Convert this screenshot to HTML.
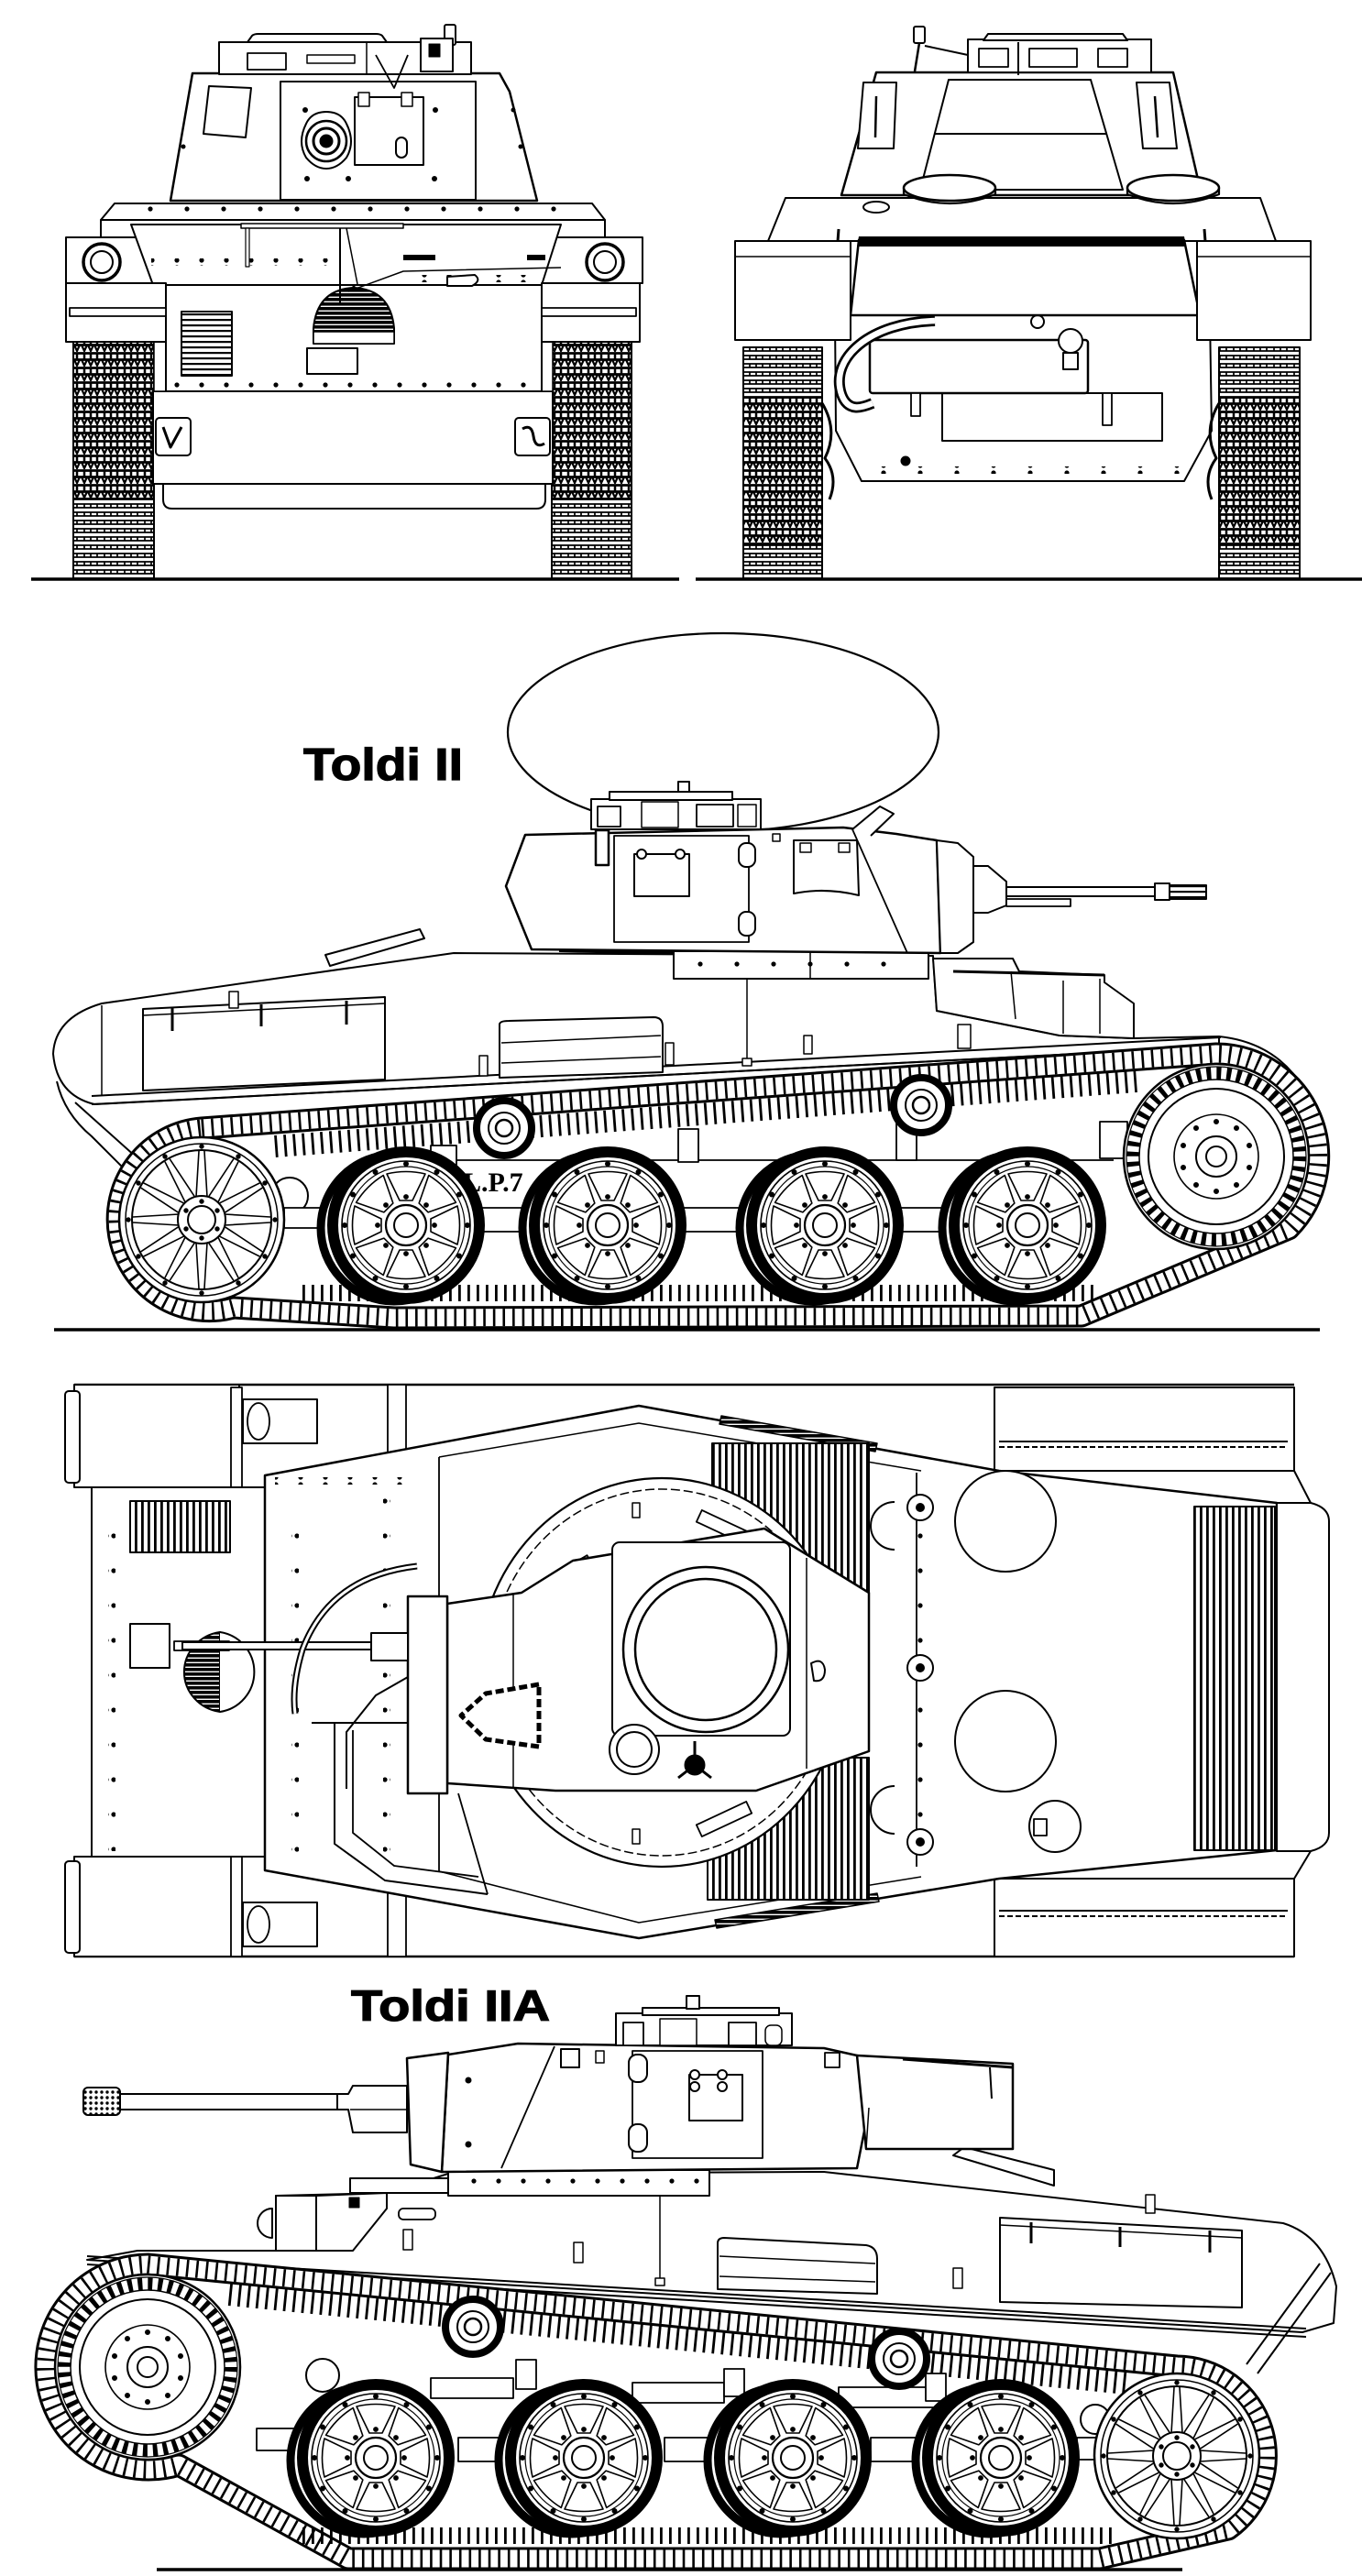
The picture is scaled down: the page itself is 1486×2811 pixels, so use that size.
<!DOCTYPE html>
<html><head><meta charset="utf-8"><style>
html,body{margin:0;padding:0;background:#fff;}
svg{display:block;}
</style></head><body>
<svg xmlns="http://www.w3.org/2000/svg" xmlns:xlink="http://www.w3.org/1999/xlink" width="1486" height="2811" viewBox="0 0 1486 2811">
<defs>
 <pattern id="trkF" width="22" height="16" patternUnits="userSpaceOnUse">
  <rect width="22" height="16" fill="#fff"/>
  <path d="M0 1.5H22M0 8.5H22" stroke="#000" stroke-width="2.8"/>
  <path d="M4 1.5V8.5M11 1.5V8.5M18 1.5V8.5" stroke="#000" stroke-width="2.5"/>
  <path d="M1 8.5L4 15L7 8.5M8 8.5L11 15L14 8.5M15 8.5L18 15L21 8.5" fill="none" stroke="#000" stroke-width="2.2"/>
 </pattern>
 <pattern id="trkG" width="22" height="9" patternUnits="userSpaceOnUse">
  <rect width="22" height="9" fill="#fff"/>
  <path d="M0 1H22M0 5H22" stroke="#000" stroke-width="1.8"/>
  <path d="M4 1V5M11 1V5M18 1V5" stroke="#000" stroke-width="1.7"/>
 </pattern>
 <pattern id="vl" width="7" height="10" patternUnits="userSpaceOnUse">
  <rect width="7" height="10" fill="#fff"/><rect width="2.8" height="10" fill="#000"/>
 </pattern>
 <pattern id="hl" width="10" height="6" patternUnits="userSpaceOnUse">
  <rect width="10" height="6" fill="#fff"/><rect width="10" height="2.2" fill="#000"/>
 </pattern>
 <pattern id="hd" width="10" height="5" patternUnits="userSpaceOnUse">
  <rect width="10" height="5" fill="#fff"/><rect width="10" height="3.6" fill="#000"/>
 </pattern>
 <pattern id="dots" width="6" height="6" patternUnits="userSpaceOnUse">
  <rect width="6" height="6" fill="#fff"/><circle cx="3" cy="3" r="1.7" fill="#000"/>
 </pattern>
 <pattern id="riv" width="27" height="8" patternUnits="userSpaceOnUse">
  <circle cx="4" cy="4" r="2.6" fill="#000"/>
 </pattern>
 <pattern id="riv2" width="40" height="8" patternUnits="userSpaceOnUse">
  <circle cx="4" cy="4" r="2.6" fill="#000"/>
 </pattern>
 <pattern id="rivv" width="8" height="38" patternUnits="userSpaceOnUse">
  <circle cx="4" cy="4" r="2.6" fill="#000"/>
 </pattern>

 <g id="rw">
  <circle cx="-13" cy="3" r="80" fill="#fff" stroke="#000" stroke-width="9"/>
  <circle r="80" fill="#fff" stroke="#000" stroke-width="12"/>
  <circle r="70" fill="none" stroke="#000" stroke-width="1.6"/>
  <circle r="64" fill="none" stroke="#000" stroke-width="1.2"/>
  <g fill="none" stroke="#000" stroke-width="1.6">
   <path id="wg" d="M-7 -27 L7 -27 L21 -56 Q0 -61 -21 -56 Z"/>
   <use href="#wg" xlink:href="#wg" transform="rotate(45)"/>
   <use href="#wg" xlink:href="#wg" transform="rotate(90)"/>
   <use href="#wg" xlink:href="#wg" transform="rotate(135)"/>
   <use href="#wg" xlink:href="#wg" transform="rotate(180)"/>
   <use href="#wg" xlink:href="#wg" transform="rotate(225)"/>
   <use href="#wg" xlink:href="#wg" transform="rotate(270)"/>
   <use href="#wg" xlink:href="#wg" transform="rotate(315)"/>
  </g>
  <circle r="22" fill="#fff" stroke="#000" stroke-width="2.2"/>
  <circle r="13" fill="none" stroke="#000" stroke-width="2"/>
  <g fill="#000">
   <circle cx="0" cy="-67" r="2.5"/><circle cx="33.5" cy="-58" r="2.5"/><circle cx="58" cy="-33.5" r="2.5"/><circle cx="67" cy="0" r="2.5"/>
   <circle cx="58" cy="33.5" r="2.5"/><circle cx="33.5" cy="58" r="2.5"/><circle cx="0" cy="67" r="2.5"/><circle cx="-33.5" cy="58" r="2.5"/>
   <circle cx="-58" cy="33.5" r="2.5"/><circle cx="-67" cy="0" r="2.5"/><circle cx="-58" cy="-33.5" r="2.5"/><circle cx="-33.5" cy="-58" r="2.5"/>
   <circle cx="0" cy="-31" r="2.4"/><circle cx="22" cy="-22" r="2.4"/><circle cx="31" cy="0" r="2.4"/><circle cx="22" cy="22" r="2.4"/>
   <circle cx="0" cy="31" r="2.4"/><circle cx="-22" cy="22" r="2.4"/><circle cx="-31" cy="0" r="2.4"/><circle cx="-22" cy="-22" r="2.4"/>
  </g>
 </g>

 <g id="idl">
  <circle r="90" fill="#fff" stroke="#000" stroke-width="2.5"/>
  <circle r="83" fill="none" stroke="#000" stroke-width="1.5"/>
  <circle r="76" fill="none" stroke="#000" stroke-width="2"/>
  <g stroke="#000" stroke-width="1.6" fill="none">
   <path id="isp" d="M-6 -25 L-3 -75 M6 -25 L3 -75"/>
   <use href="#isp" xlink:href="#isp" transform="rotate(30)"/>
   <use href="#isp" xlink:href="#isp" transform="rotate(60)"/>
   <use href="#isp" xlink:href="#isp" transform="rotate(90)"/>
   <use href="#isp" xlink:href="#isp" transform="rotate(120)"/>
   <use href="#isp" xlink:href="#isp" transform="rotate(150)"/>
   <use href="#isp" xlink:href="#isp" transform="rotate(180)"/>
   <use href="#isp" xlink:href="#isp" transform="rotate(210)"/>
   <use href="#isp" xlink:href="#isp" transform="rotate(240)"/>
   <use href="#isp" xlink:href="#isp" transform="rotate(270)"/>
   <use href="#isp" xlink:href="#isp" transform="rotate(300)"/>
   <use href="#isp" xlink:href="#isp" transform="rotate(330)"/>
  </g>
  <circle r="26" fill="#fff" stroke="#000" stroke-width="2"/>
  <circle r="15" fill="none" stroke="#000" stroke-width="2"/>
  <g fill="#000">
   <circle cx="0" cy="-20" r="2.2"/><circle cx="17" cy="-10" r="2.2"/><circle cx="17" cy="10" r="2.2"/><circle cx="0" cy="20" r="2.2"/><circle cx="-17" cy="10" r="2.2"/><circle cx="-17" cy="-10" r="2.2"/>
   <circle cx="0" cy="-80" r="2.2"/><circle cx="40" cy="-69" r="2.2"/><circle cx="69" cy="-40" r="2.2"/><circle cx="80" cy="0" r="2.2"/><circle cx="69" cy="40" r="2.2"/><circle cx="40" cy="69" r="2.2"/>
   <circle cx="0" cy="80" r="2.2"/><circle cx="-40" cy="69" r="2.2"/><circle cx="-69" cy="40" r="2.2"/><circle cx="-80" cy="0" r="2.2"/><circle cx="-69" cy="-40" r="2.2"/><circle cx="-40" cy="-69" r="2.2"/>
  </g>
 </g>

 <g id="spr">
  <circle r="101" fill="#fff" stroke="#000" stroke-width="2.5"/>
  <circle r="91" fill="none" stroke="#000" stroke-width="14" stroke-dasharray="5 6"/>
  <circle r="98" fill="none" stroke="#000" stroke-width="1.2"/>
  <circle r="84" fill="none" stroke="#000" stroke-width="1.5"/>
  <circle r="74" fill="none" stroke="#000" stroke-width="2"/>
  <circle r="46" fill="none" stroke="#000" stroke-width="1.6"/>
  <g fill="#000">
   <circle cx="0" cy="-38" r="2.5"/><circle cx="22" cy="-31" r="2.5"/><circle cx="36" cy="-12" r="2.5"/><circle cx="36" cy="12" r="2.5"/><circle cx="22" cy="31" r="2.5"/>
   <circle cx="0" cy="38" r="2.5"/><circle cx="-22" cy="31" r="2.5"/><circle cx="-36" cy="12" r="2.5"/><circle cx="-36" cy="-12" r="2.5"/><circle cx="-22" cy="-31" r="2.5"/>
  </g>
  <circle r="22" fill="#fff" stroke="#000" stroke-width="2"/>
  <circle r="11" fill="none" stroke="#000" stroke-width="2"/>
 </g>

 <g id="rol">
  <circle r="30" fill="#fff" stroke="#000" stroke-width="8"/>
  <circle r="17" fill="none" stroke="#000" stroke-width="2"/>
  <circle r="9" fill="none" stroke="#000" stroke-width="2.5"/>
 </g>

 <path id="t2" d="M220 1231 L1327 1150 A112 112 0 0 1 1406 1341 L1180 1436 L430 1438 L255 1427 A100 100 0 1 1 220 1231 Z"/>
 <path id="t3" d="M161 2471 L1284 2582 A98 98 0 0 1 1340 2760 L1200 2792 L380 2792 L195 2690 A112 112 0 1 1 161 2471 Z"/>
</defs>

<rect width="1486" height="2811" fill="#fff"/>

<!-- ================= LEFT FRONT VIEW ================= -->
<g stroke="#000" stroke-linejoin="round">
 <rect x="80" y="354" width="88" height="190" fill="url(#trkF)" stroke-width="2"/>
 <rect x="80" y="544" width="88" height="88" fill="url(#trkG)" stroke-width="2"/>
 <rect x="602" y="354" width="87" height="190" fill="url(#trkF)" stroke-width="2"/>
 <rect x="602" y="544" width="87" height="88" fill="url(#trkG)" stroke-width="2"/>

 <path d="M178 528 L595 528 L595 545 Q595 555 585 555 L188 555 Q178 555 178 545 Z" fill="#fff" stroke-width="2"/>
 <rect x="167" y="427" width="436" height="101" fill="#fff" stroke-width="2"/>
 <rect x="168" y="330" width="13" height="97" fill="#fff" stroke-width="1.5"/>
 <rect x="591" y="330" width="12" height="97" fill="#fff" stroke-width="1.5"/>
 <rect x="181" y="311" width="410" height="116" fill="#fff" stroke-width="2"/>
 <rect x="190" y="416" width="395" height="8" fill="url(#riv)" stroke="none"/>
 <rect x="198" y="340" width="55" height="70" fill="url(#hl)" stroke-width="2"/>
 <path d="M342 375 L342 358 Q346 316 386 314 Q426 316 430 358 L430 375 Z" fill="url(#hd)" stroke-width="2"/>
 <rect x="342" y="362" width="88" height="13" fill="#fff" stroke-width="1.5"/>
 <rect x="335" y="380" width="55" height="28" fill="#fff" stroke-width="2"/>
 <line x1="386" y1="303" x2="386" y2="316" stroke-width="3"/>
 <rect x="170" y="456" width="38" height="41" rx="4" fill="#fff" stroke-width="2"/>
 <path d="M178 466 L186 488 L198 466" fill="none" stroke-width="3"/>
 <rect x="562" y="456" width="38" height="41" rx="4" fill="#fff" stroke-width="2"/>
 <path d="M570 468 Q580 462 582 476 Q584 490 594 484" fill="none" stroke-width="3"/>

 <rect x="72" y="259" width="629" height="50" fill="#fff" stroke-width="2"/>
 <circle cx="111" cy="286" r="20" fill="#fff" stroke-width="3.5"/>
 <circle cx="111" cy="286" r="12" fill="none" stroke-width="2"/>
 <circle cx="660" cy="286" r="20" fill="#fff" stroke-width="3.5"/>
 <circle cx="660" cy="286" r="12" fill="none" stroke-width="2"/>
 <rect x="110" y="240" width="550" height="19" fill="#fff" stroke-width="2"/>
 <polygon points="125,222 646,222 660,240 110,240" fill="#fff" stroke-width="2"/>
 <polygon points="143,245 612,245 591,311 167,311" fill="#fff" stroke-width="2"/>
 <polyline points="380,318 440,296 612,292" fill="none" stroke-width="1.5"/>
 <rect x="165" y="282" width="210" height="8" fill="url(#riv)" stroke="none"/>
 <rect x="440" y="300" width="150" height="8" fill="url(#riv)" stroke="none"/>
 <rect x="150" y="225" width="470" height="8" fill="url(#riv2)" stroke="none"/>
 <rect x="440" y="278" width="35" height="6" fill="#000" stroke="none"/>
 <rect x="575" y="278" width="20" height="6" fill="#000" stroke="none"/>
 <path d="M488 302 L488 312 L515 312 Q526 306 518 300 Z" fill="#fff" stroke-width="2"/>
 <rect x="263" y="244" width="177" height="5" fill="#fff" stroke-width="1.5"/>
 <rect x="268" y="249" width="4" height="42" fill="#fff" stroke-width="1.2"/>
 <line x1="371" y1="249" x2="371" y2="330" stroke-width="2"/>
 <line x1="378" y1="249" x2="390" y2="310" stroke-width="1.5"/>

 <rect x="72" y="309" width="109" height="64" fill="#fff" stroke-width="2"/>
 <rect x="76" y="336" width="105" height="9" fill="#fff" stroke-width="1.8"/>
 <rect x="591" y="309" width="107" height="64" fill="#fff" stroke-width="2"/>
 <rect x="591" y="336" width="103" height="9" fill="#fff" stroke-width="1.8"/>

 <polygon points="210,80 545,80 556,100 586,219 186,219" fill="#fff" stroke-width="2.5"/>
 <rect x="306" y="89" width="213" height="129" fill="#fff" stroke-width="2"/>
 <path d="M356 122 Q372 122 378 135 Q388 155 378 172 Q368 184 356 184 Q344 184 334 172 Q324 155 334 135 Q340 122 356 122 Z" fill="#fff" stroke-width="2"/>
 <circle cx="356" cy="154" r="22" fill="#fff" stroke-width="2.5"/>
 <circle cx="356" cy="154" r="14" fill="none" stroke-width="3"/>
 <circle cx="356" cy="154" r="7" fill="#000"/>
 <rect x="387" y="106" width="75" height="74" fill="#fff" stroke-width="2"/>
 <rect x="391" y="101" width="12" height="15" fill="#fff" stroke-width="1.5"/>
 <rect x="438" y="101" width="12" height="15" fill="#fff" stroke-width="1.5"/>
 <rect x="432" y="150" width="12" height="22" rx="6" fill="#fff" stroke-width="2"/>
 <g fill="#000" stroke="none">
  <circle cx="335" cy="195" r="3"/><circle cx="380" cy="195" r="3"/><circle cx="474" cy="195" r="3"/>
  <circle cx="333" cy="120" r="3"/><circle cx="475" cy="120" r="3"/><circle cx="560" cy="120" r="2.5"/><circle cx="568" cy="160" r="2.5"/><circle cx="200" cy="160" r="2.5"/>
 </g>
 <polygon points="228,94 274,96 268,150 222,146" fill="#fff" stroke-width="2"/>
 <rect x="239" y="46" width="275" height="35" fill="#fff" stroke-width="2"/>
 <rect x="270" y="58" width="42" height="18" fill="#fff" stroke-width="1.8"/>
 <rect x="335" y="60" width="52" height="9" fill="#fff" stroke-width="1.5"/>
 <line x1="400" y1="46" x2="400" y2="81" stroke-width="1.5"/>
 <polyline points="410,60 430,96 445,60" fill="none" stroke-width="1.8"/>
 <path d="M270 46 L275 39 Q277 37 282 37 L410 37 Q415 37 417 39 L422 46 Z" fill="#fff" stroke-width="2"/>
 <rect x="485" y="27" width="12" height="22" rx="2" fill="#fff" stroke-width="2"/>
 <rect x="459" y="42" width="35" height="36" fill="#fff" stroke-width="2"/>
 <rect x="468" y="48" width="12" height="14" fill="#000"/>
 <line x1="34" y1="632" x2="741" y2="632" stroke-width="3.5"/>
</g>

<!-- ================= RIGHT FRONT VIEW (rear) ================= -->
<g stroke="#000" stroke-linejoin="round">
 <rect x="811" y="379" width="86" height="55" fill="url(#trkG)" stroke-width="2"/>
 <rect x="811" y="434" width="86" height="160" fill="url(#trkF)" stroke-width="2"/>
 <rect x="811" y="594" width="86" height="38" fill="url(#trkG)" stroke-width="2"/>
 <rect x="1330" y="379" width="88" height="55" fill="url(#trkG)" stroke-width="2"/>
 <rect x="1330" y="434" width="88" height="160" fill="url(#trkF)" stroke-width="2"/>
 <rect x="1330" y="594" width="88" height="38" fill="url(#trkG)" stroke-width="2"/>

 <polygon points="911,344 1320,344 1322,470 1292,525 940,525 912,470" fill="#fff" stroke-width="2"/>
 <rect x="950" y="509" width="340" height="8" fill="url(#riv2)" stroke="none"/>
 <circle cx="988" cy="503" r="5" fill="#000"/>
 <path d="M897 440 Q915 470 900 500 Q915 520 905 545" fill="none" stroke-width="3"/>
 <path d="M1330 440 Q1312 470 1327 500 Q1312 520 1322 545" fill="none" stroke-width="3"/>
 <rect x="1028" y="429" width="240" height="52" fill="#fff" stroke-width="2"/>
 <rect x="949" y="371" width="238" height="58" rx="3" fill="#fff" stroke-width="2.5"/>
 <path d="M1020 350 C950 352 905 390 918 430 C925 450 940 445 952 440" fill="none" stroke-width="12"/>
 <path d="M1020 350 C950 352 905 390 918 430 C925 450 940 445 952 440" fill="none" stroke="#fff" stroke-width="6.5"/>
 <circle cx="1168" cy="372" r="13" fill="#fff" stroke-width="2"/>
 <rect x="1160" y="385" width="16" height="18" fill="#fff" stroke-width="2"/>
 <rect x="994" y="429" width="10" height="25" fill="#fff" stroke-width="1.8"/>
 <rect x="1203" y="429" width="10" height="35" fill="#fff" stroke-width="1.8"/>
 <circle cx="1132" cy="351" r="7" fill="#fff" stroke-width="2"/>

 <polygon points="857,216 1375,216 1392,263 838,263" fill="#fff" stroke-width="2"/>
 <polygon points="937,262 1292,262 1309,344 928,344" fill="#fff" stroke-width="2.5"/>
 <polygon points="937,258 1292,258 1294,269 935,269" fill="#000" stroke="none"/>
 <line x1="915" y1="250" x2="908" y2="345" stroke-width="3"/>
 <line x1="1314" y1="250" x2="1321" y2="345" stroke-width="3"/>
 <rect x="802" y="263" width="126" height="108" fill="#fff" stroke-width="2"/>
 <line x1="802" y1="280" x2="928" y2="280" stroke-width="1.5"/>
 <rect x="1306" y="263" width="124" height="108" fill="#fff" stroke-width="2"/>
 <line x1="1306" y1="280" x2="1430" y2="280" stroke-width="1.5"/>

 <polygon points="956,79 1280,79 1311,213 918,213" fill="#fff" stroke-width="2.5"/>
 <polygon points="1035,87 1190,87 1225,207 1004,207" fill="#fff" stroke-width="2"/>
 <line x1="1020" y1="146" x2="1208" y2="146" stroke-width="2"/>
 <polygon points="942,90 978,90 975,162 936,162" fill="#fff" stroke-width="2"/>
 <line x1="956" y1="105" x2="955" y2="150" stroke-width="2.5"/>
 <polygon points="1240,90 1276,90 1284,162 1247,162" fill="#fff" stroke-width="2"/>
 <line x1="1260" y1="105" x2="1263" y2="150" stroke-width="2.5"/>
 <path d="M986 205 L986 212 Q1036 232 1086 212 L1086 205" fill="#fff" stroke-width="2.2"/>
 <ellipse cx="1036" cy="205" rx="50" ry="14" fill="#fff" stroke-width="2.5"/>
 <path d="M1230 205 L1230 212 Q1280 232 1330 212 L1330 205" fill="#fff" stroke-width="2.2"/>
 <ellipse cx="1280" cy="205" rx="50" ry="14" fill="#fff" stroke-width="2.5"/>
 <ellipse cx="956" cy="226" rx="14" ry="6" fill="#fff" stroke-width="2"/>
 <rect x="1056" y="43" width="200" height="36" fill="#fff" stroke-width="2"/>
 <rect x="1068" y="53" width="32" height="20" fill="#fff" stroke-width="1.8"/>
 <rect x="1123" y="53" width="52" height="20" fill="#fff" stroke-width="1.8"/>
 <rect x="1198" y="53" width="32" height="20" fill="#fff" stroke-width="1.8"/>
 <line x1="1111" y1="46" x2="1111" y2="82" stroke-width="2"/>
 <path d="M1073 44 L1078 37 L1225 37 L1230 44 Z" fill="#fff" stroke-width="2"/>
 <rect x="997" y="29" width="12" height="18" rx="2" fill="#fff" stroke-width="2"/>
 <polyline points="1003,47 998,78" fill="none" stroke-width="2.5"/>
 <polyline points="1009,50 1056,60 1056,70" fill="none" stroke-width="2"/>
 <line x1="759" y1="632" x2="1486" y2="632" stroke-width="3.5"/>
</g>

<!-- ================= TOLDI II SIDE ================= -->
<text x="331" y="851" font-family="'Liberation Sans', Arial, sans-serif" font-weight="bold" font-size="49" textLength="174" lengthAdjust="spacingAndGlyphs" fill="#000" stroke="#000" stroke-width="1.2">Toldi II</text>
<ellipse cx="789" cy="799" rx="235" ry="108" fill="none" stroke="#000" stroke-width="2.2"/>
<g stroke="#000" stroke-linejoin="round">
 <path d="M111 1095 L495 1040 L1018 1043 L1022 1103 L1156 1130 L1237 1133 L1330 1131 L1330 1142 L103 1205 Q62 1195 58 1150 Q60 1110 111 1095 Z" fill="#fff" stroke-width="2"/>
 <line x1="100" y1="1196" x2="1332" y2="1132" stroke-width="2"/>
 <line x1="100" y1="1205" x2="1332" y2="1142" stroke-width="2"/>
 <line x1="111" y1="1097" x2="111" y2="1196" stroke-width="1.5"/>
 <path d="M62 1180 Q70 1215 100 1240 L150 1290" fill="none" stroke-width="2"/>
 <path d="M82 1203 L168 1280" fill="none" stroke-width="2"/>
 <path d="M1330 1131 Q1415 1140 1440 1230" fill="none" stroke-width="2"/>
 <polygon points="355,1042 458,1014 463,1024 360,1054" fill="#fff" stroke-width="2"/>
 <polygon points="156,1101 420,1088 420,1178 156,1190" fill="#fff" stroke-width="2"/>
 <line x1="156" y1="1108" x2="420" y2="1095" stroke-width="1.5"/>
 <path d="M188 1100 V1125 M285 1096 V1120 M378 1092 V1118" fill="none" stroke-width="3"/>
 <path d="M545 1118 L545 1176 L723 1170 L723 1120 Q723 1110 713 1110 L555 1114 Q545 1114 545 1118 Z" fill="#fff" stroke-width="2"/>
 <line x1="547" y1="1138" x2="721" y2="1130" stroke-width="1.5"/>
 <line x1="547" y1="1160" x2="721" y2="1153" stroke-width="1.5"/>
 <rect x="523" y="1152" width="9" height="22" fill="#fff" stroke-width="1.5"/>
 <rect x="726" y="1138" width="9" height="24" fill="#fff" stroke-width="1.5"/>
 <rect x="877" y="1130" width="9" height="20" fill="#fff" stroke-width="1.5"/>
 <rect x="1045" y="1118" width="14" height="26" fill="#fff" stroke-width="1.5"/>
 <rect x="250" y="1082" width="10" height="18" fill="#fff" stroke-width="1.5"/>
 <line x1="815" y1="1068" x2="815" y2="1156" stroke-width="1.5"/>
 <rect x="810" y="1155" width="10" height="8" fill="#fff" stroke-width="1.5"/>
 <polygon points="1018,1046 1105,1046 1112,1060 1205,1064 1205,1072 1237,1095 1237,1133 1156,1130 1022,1103" fill="#fff" stroke-width="2"/>
 <line x1="1103" y1="1060" x2="1108" y2="1112" stroke-width="1.5"/>
 <line x1="1160" y1="1070" x2="1160" y2="1128" stroke-width="1.5"/>
 <line x1="1200" y1="1068" x2="1200" y2="1128" stroke-width="1.5"/>
 <line x1="1040" y1="1060" x2="1205" y2="1064" stroke-width="3"/>
 <line x1="610" y1="1037" x2="735" y2="1040" stroke-width="4"/>

 <rect x="735" y="1038" width="278" height="30" fill="#fff" stroke-width="2"/>
 <line x1="884" y1="1038" x2="884" y2="1068" stroke-width="1.5"/>
 <rect x="760" y="1049" width="240" height="8" fill="url(#riv2)" stroke="none"/>
 <polygon points="573,911 920,903 978,910 1022,917 1026,1040 580,1036 552,967" fill="#fff" stroke-width="2.5"/>
 <line x1="930" y1="905" x2="990" y2="1040" stroke-width="1.8"/>
 <polygon points="1022,917 1045,920 1062,935 1062,1028 1045,1040 1026,1040" fill="#fff" stroke-width="2"/>
 <rect x="670" y="912" width="147" height="116" fill="#fff" stroke-width="1.8"/>
 <rect x="692" y="932" width="60" height="46" fill="#fff" stroke-width="2"/>
 <circle cx="700" cy="932" r="5" fill="#fff" stroke-width="2"/><circle cx="742" cy="932" r="5" fill="#fff" stroke-width="2"/>
 <rect x="806" y="920" width="18" height="26" rx="8" fill="#fff" stroke-width="2"/>
 <rect x="806" y="995" width="18" height="26" rx="8" fill="#fff" stroke-width="2"/>
 <path d="M866 917 L935 917 L937 977 Q900 968 866 975 Z" fill="#fff" stroke-width="2"/>
 <rect x="873" y="920" width="12" height="10" fill="#fff" stroke-width="1.5"/><rect x="915" y="920" width="12" height="10" fill="#fff" stroke-width="1.5"/>
 <rect x="843" y="910" width="8" height="8" fill="#fff" stroke-width="1.5"/>
 <rect x="650" y="906" width="14" height="38" fill="#fff" stroke-width="2.5"/>
 <path d="M930 905 L960 880 L975 888 L950 912" fill="#fff" stroke-width="2"/>
 <rect x="645" y="872" width="185" height="33" fill="#fff" stroke-width="2"/>
 <rect x="652" y="880" width="25" height="22" fill="#fff" stroke-width="1.8"/>
 <rect x="700" y="875" width="40" height="28" fill="#fff" stroke-width="1.5"/>
 <rect x="760" y="878" width="40" height="24" fill="#fff" stroke-width="1.8"/>
 <rect x="805" y="878" width="20" height="24" fill="#fff" stroke-width="1.5"/>
 <rect x="665" y="864" width="134" height="9" fill="#fff" stroke-width="2"/>
 <rect x="740" y="853" width="12" height="11" fill="#fff" stroke-width="2"/>
 <polygon points="1062,945 1078,945 1098,962 1098,988 1078,996 1062,996" fill="#fff" stroke-width="2"/>
 <rect x="1098" y="968" width="164" height="10" fill="#fff" stroke-width="2"/>
 <rect x="1260" y="964" width="16" height="18" fill="#fff" stroke-width="2"/>
 <rect x="1276" y="966" width="40" height="15" fill="url(#hl)" stroke-width="2"/>
 <rect x="1098" y="981" width="70" height="8" fill="#fff" stroke-width="1.8"/>

 <use href="#t2" xlink:href="#t2" fill="none" stroke="#000" stroke-width="25"/>
 <use href="#t2" xlink:href="#t2" fill="none" stroke="#fff" stroke-width="19"/>
 <use href="#t2" xlink:href="#t2" fill="none" stroke="#000" stroke-width="19" stroke-dasharray="2.6 8"/>
 <path d="M300 1251 L1240 1180" fill="none" stroke="#000" stroke-width="24" stroke-dasharray="2.8 7.2"/>
 <path d="M330 1411 L1200 1411" fill="none" stroke="#000" stroke-width="18" stroke-dasharray="2.8 7.2"/>
 <line x1="490" y1="1266" x2="1215" y2="1266" stroke-width="1.8"/>
 <rect x="740" y="1232" width="22" height="36" fill="#fff" stroke-width="1.8"/>
 <rect x="978" y="1226" width="22" height="40" fill="#fff" stroke-width="1.8"/>
 <rect x="1200" y="1224" width="30" height="40" fill="#fff" stroke-width="1.8"/>
 <rect x="470" y="1250" width="28" height="30" fill="#fff" stroke-width="1.8"/>
 <circle cx="316" cy="1305" r="20" fill="#fff" stroke-width="2"/>
 <rect x="520" y="1318" width="70" height="26" fill="#fff" stroke-width="1.8"/>
 <rect x="745" y="1318" width="70" height="26" fill="#fff" stroke-width="1.8"/>
 <rect x="975" y="1318" width="70" height="26" fill="#fff" stroke-width="1.8"/>
 <rect x="310" y="1318" width="60" height="22" fill="#fff" stroke-width="1.8"/>
 <text x="505" y="1300" font-family="'Liberation Serif', serif" font-weight="bold" font-size="30" fill="#000" stroke="none">L.P.7</text>
 <use href="#rw" xlink:href="#rw" transform="translate(443,1337)"/>
 <use href="#rw" xlink:href="#rw" transform="translate(663,1337)"/>
 <use href="#rw" xlink:href="#rw" transform="translate(900,1337)"/>
 <use href="#rw" xlink:href="#rw" transform="translate(1121,1337)"/>
 <use href="#idl" xlink:href="#idl" transform="translate(220,1331)"/>
 <use href="#spr" xlink:href="#spr" transform="translate(1327,1262)"/>
 <use href="#rol" xlink:href="#rol" transform="translate(550,1231)"/>
 <use href="#rol" xlink:href="#rol" transform="translate(1005,1206)"/>
 <line x1="59" y1="1451" x2="1440" y2="1451" stroke-width="3.5"/>
</g>

<!-- ================= TOP VIEW ================= -->
<g stroke="#000" stroke-linejoin="round">
 <line x1="81" y1="1511" x2="1412" y2="1511" stroke-width="2.5"/>
 <line x1="81" y1="2135" x2="1412" y2="2135" stroke-width="2.5"/>
 <rect x="81" y="1511" width="180" height="112" fill="#fff" stroke-width="2"/>
 <rect x="81" y="2026" width="180" height="109" fill="#fff" stroke-width="2"/>
 <rect x="71" y="1518" width="16" height="100" rx="4" fill="#fff" stroke-width="2"/>
 <rect x="71" y="2031" width="16" height="100" rx="4" fill="#fff" stroke-width="2"/>
 <rect x="265" y="1527" width="81" height="48" fill="#fff" stroke-width="2"/>
 <ellipse cx="282" cy="1551" rx="12" ry="20" fill="#fff" stroke-width="1.8"/>
 <rect x="265" y="2076" width="81" height="48" fill="#fff" stroke-width="2"/>
 <ellipse cx="282" cy="2100" rx="12" ry="20" fill="#fff" stroke-width="1.8"/>
 <rect x="252" y="1514" width="12" height="118" fill="#fff" stroke-width="1.8"/>
 <rect x="423" y="1511" width="20" height="75" fill="#fff" stroke-width="1.8"/>
 <rect x="252" y="2020" width="12" height="115" fill="#fff" stroke-width="1.8"/>
 <rect x="423" y="2060" width="20" height="75" fill="#fff" stroke-width="1.8"/>
 <rect x="100" y="1623" width="189" height="403" fill="#fff" stroke-width="2"/>
 <rect x="118" y="1650" width="8" height="370" fill="url(#rivv)" stroke="none"/>
 <rect x="142" y="1638" width="109" height="56" fill="url(#vl)" stroke-width="2"/>
 <rect x="142" y="1772" width="43" height="48" fill="#fff" stroke-width="2"/>
 <path d="M240 1781 A46 44 0 0 0 240 1868 Z" fill="url(#hd)" stroke-width="2"/>
 <path d="M240 1781 A44 44 0 0 1 240 1868" fill="#fff" stroke-width="2"/>
 <rect x="190" y="1791" width="60" height="10" fill="#fff" stroke-width="1.8"/>

 <rect x="1085" y="1514" width="327" height="91" fill="#fff" stroke-width="2"/>
 <line x1="1090" y1="1573" x2="1405" y2="1573" stroke-width="2"/>
 <line x1="1090" y1="1579" x2="1405" y2="1579" stroke-width="2" stroke-dasharray="6 3"/>
 <rect x="1085" y="2050" width="327" height="85" fill="#fff" stroke-width="2"/>
 <line x1="1090" y1="2085" x2="1405" y2="2085" stroke-width="2"/>
 <line x1="1090" y1="2091" x2="1405" y2="2091" stroke-width="2" stroke-dasharray="6 3"/>

 <polygon points="289,1610 697,1534 1090,1605 1393,1640 1393,2019 1090,2050 697,2115 289,2041" fill="#fff" stroke-width="2.5"/>
 <polyline points="479,1590 697,1553 1005,1605" fill="none" stroke-width="1.5"/>
 <polyline points="479,2042 697,2098 1005,2048" fill="none" stroke-width="1.5"/>
 <line x1="479" y1="1590" x2="479" y2="2042" stroke-width="1.8"/>
 <line x1="1000" y1="1607" x2="1000" y2="2037" stroke-width="1.8"/>
 <rect x="300" y="1612" width="150" height="8" fill="url(#riv)" stroke="none"/>
 <rect x="418" y="1620" width="8" height="420" fill="url(#rivv)" stroke="none"/>
 <rect x="318" y="1660" width="8" height="380" fill="url(#rivv)" stroke="none"/>
 <rect x="1000" y="1630" width="8" height="390" fill="url(#rivv)" stroke="none"/>
 <polygon points="787,1545 957,1575 955,1584 785,1554" fill="url(#hd)" stroke-width="1.5"/>
 <polygon points="780,2095 957,2066 959,2075 782,2104" fill="url(#hd)" stroke-width="1.5"/>
 <path d="M1393 1640 L1430 1640 Q1450 1645 1450 1660 L1450 2000 Q1450 2015 1430 2020 L1393 2020 Z" fill="#fff" stroke-width="2"/>
 <line x1="1412" y1="1605" x2="1430" y2="1640" stroke-width="2"/>
 <line x1="1412" y1="2050" x2="1430" y2="2020" stroke-width="2"/>
 <rect x="1303" y="1644" width="88" height="375" fill="url(#vl)" stroke-width="2"/>
 <circle cx="1097" cy="1660" r="55" fill="#fff" stroke-width="2"/>
 <circle cx="1097" cy="1900" r="55" fill="#fff" stroke-width="2"/>
 <circle cx="1151" cy="1993" r="28" fill="#fff" stroke-width="2"/>
 <rect x="1128" y="1985" width="14" height="18" fill="#fff" stroke-width="1.8"/>
 <path d="M976 1639 A26 26 0 0 0 976 1691" fill="#fff" stroke-width="2"/>
 <path d="M976 1949 A26 26 0 0 0 976 2001" fill="#fff" stroke-width="2"/>
 <g fill="#fff" stroke-width="2">
  <circle cx="1004" cy="1645" r="14"/><circle cx="1004" cy="1820" r="14"/><circle cx="1004" cy="2010" r="14"/>
 </g>
 <g fill="#000" stroke="none">
  <circle cx="1004" cy="1645" r="5"/><circle cx="1004" cy="1820" r="5"/><circle cx="1004" cy="2010" r="5"/>
 </g>

 <rect x="777" y="1575" width="171" height="168" fill="url(#vl)" stroke-width="2"/>
 <rect x="772" y="1918" width="176" height="155" fill="url(#vl)" stroke-width="2"/>
 <ellipse cx="722" cy="1825" rx="200" ry="212" fill="#fff" stroke-width="2.2"/>
 <ellipse cx="722" cy="1825" rx="188" ry="200" fill="none" stroke-width="1.5" stroke-dasharray="10 4"/>
 <rect x="630" y="1700" width="22" height="40" fill="#fff" stroke-width="1.8" transform="rotate(-30 641 1720)"/>
 <rect x="760" y="1660" width="60" height="14" fill="#fff" stroke-width="1.8" transform="rotate(25 790 1667)"/>
 <rect x="760" y="1978" width="60" height="14" fill="#fff" stroke-width="1.8" transform="rotate(-25 790 1985)"/>
 <rect x="690" y="1640" width="8" height="16" fill="#fff" stroke-width="1.5"/>
 <rect x="690" y="1996" width="8" height="16" fill="#fff" stroke-width="1.5"/>

 <polygon points="488,1750 569,1738 625,1703 834,1668 948,1738 948,1911 825,1954 606,1954 488,1946" fill="#fff" stroke-width="2.5"/>
 <line x1="560" y1="1740" x2="560" y2="1950" stroke-width="1.5"/>
 <line x1="880" y1="1700" x2="880" y2="1930" stroke-width="1.5"/>
 <rect x="668" y="1683" width="194" height="211" rx="8" fill="#fff" stroke-width="2"/>
 <circle cx="770" cy="1800" r="90" fill="#fff" stroke-width="2.5"/>
 <circle cx="770" cy="1800" r="77" fill="#fff" stroke-width="2.5"/>
 <path d="M885 1815 Q898 1808 900 1822 Q900 1836 888 1834 Z" fill="#fff" stroke-width="2"/>
 <rect x="445" y="1742" width="43" height="215" fill="#fff" stroke-width="2.5"/>
 <rect x="199" y="1792" width="246" height="8" fill="#fff" stroke-width="2"/>
 <rect x="405" y="1782" width="40" height="30" fill="#fff" stroke-width="2"/>
 <polyline points="445,1830 410,1850 378,1890 378,1952" fill="none" stroke-width="2"/>
 <polyline points="445,1880 340,1880" fill="none" stroke-width="2"/>
 <path d="M455 1709 Q360 1720 330 1800 Q318 1840 322 1870" fill="none" stroke-width="7"/>
 <path d="M455 1709 Q360 1720 330 1800 Q318 1840 322 1870" fill="none" stroke="#fff" stroke-width="3"/>
 <polyline points="365,1880 365,2012 420,2052 532,2067" fill="none" stroke-width="2"/>
 <polyline points="385,1888 385,2000 430,2036 522,2048" fill="none" stroke-width="1.8"/>
 <line x1="500" y1="1957" x2="532" y2="2067" stroke-width="1.8"/>
 <polygon points="588,1838 530,1848 503,1872 530,1898 588,1906" fill="#fff" stroke-width="5" stroke-dasharray="9 4"/>
 <circle cx="692" cy="1909" r="27" fill="#fff" stroke-width="2"/>
 <circle cx="692" cy="1909" r="19" fill="none" stroke-width="2"/>
 <path d="M758 1926 L740 1940 M758 1926 L776 1940 M758 1926 L758 1900" fill="none" stroke-width="3"/>
 <circle cx="758" cy="1926" r="11" fill="#000"/>
</g>

<!-- ================= TOLDI IIA ================= -->
<text x="383" y="2205" font-family="'Liberation Sans', Arial, sans-serif" font-weight="bold" font-size="47" textLength="217" lengthAdjust="spacingAndGlyphs" fill="#000" stroke="#000" stroke-width="1.2">Toldi IIA</text>
<g stroke="#000" stroke-linejoin="round">
 <path d="M301 2396 L422 2393 L489 2372 L899 2370 L1400 2426 Q1445 2440 1458 2495 L1455 2535 L1421 2545 L95 2466 L150 2456 L301 2456 Z" fill="#fff" stroke-width="2"/>
 <line x1="95" y1="2462" x2="1425" y2="2541" stroke-width="2"/>
 <line x1="95" y1="2471" x2="1425" y2="2550" stroke-width="2"/>
 <path d="M1440 2470 L1360 2580 M1452 2480 L1372 2590" fill="none" stroke-width="2"/>
 <rect x="301" y="2396" width="44" height="60" fill="#fff" stroke-width="2"/>
 <polygon points="345,2396 422,2393 422,2410 385,2456 345,2456" fill="#fff" stroke-width="2"/>
 <rect x="381" y="2398" width="11" height="11" fill="#000"/>
 <rect x="382" y="2377" width="160" height="16" fill="#fff" stroke-width="2"/>
 <path d="M297 2410 A16 16 0 0 0 297 2442 Z" fill="#fff" stroke-width="2"/>
 <rect x="435" y="2410" width="40" height="12" rx="5" fill="#fff" stroke-width="1.8"/>
 <rect x="440" y="2433" width="10" height="22" fill="#fff" stroke-width="1.5"/>
 <rect x="626" y="2447" width="10" height="22" fill="#fff" stroke-width="1.5"/>
 <rect x="805" y="2460" width="10" height="22" fill="#fff" stroke-width="1.5"/>
 <rect x="1040" y="2475" width="10" height="22" fill="#fff" stroke-width="1.5"/>
 <line x1="720" y1="2396" x2="720" y2="2486" stroke-width="1.5"/>
 <rect x="715" y="2486" width="10" height="8" fill="#fff" stroke-width="1.5"/>
 <polygon points="1040,2352 1052,2343 1150,2368 1150,2385" fill="#fff" stroke-width="2"/>
 <polygon points="1091,2420 1355,2434 1355,2518 1091,2512" fill="#fff" stroke-width="2"/>
 <line x1="1091" y1="2428" x2="1355" y2="2442" stroke-width="1.5"/>
 <path d="M1125 2425 V2448 M1222 2430 V2452 M1320 2434 V2458" fill="none" stroke-width="3"/>
 <path d="M783 2448 Q783 2442 790 2442 L945 2450 Q957 2452 957 2465 L957 2503 L783 2498 Z" fill="#fff" stroke-width="2"/>
 <line x1="785" y1="2462" x2="955" y2="2470" stroke-width="1.5"/>
 <line x1="785" y1="2484" x2="955" y2="2490" stroke-width="1.5"/>
 <rect x="1250" y="2395" width="10" height="20" fill="#fff" stroke-width="1.5"/>

 <rect x="489" y="2368" width="285" height="28" fill="#fff" stroke-width="2"/>
 <rect x="505" y="2376" width="270" height="8" fill="url(#riv)" stroke="none"/>
 <polygon points="489,2242 565,2230 899,2235 935,2243 948,2300 935,2366 482,2370" fill="#fff" stroke-width="2.5"/>
 <polygon points="935,2243 1105,2252 1105,2345 945,2345" fill="#fff" stroke-width="2.5"/>
 <line x1="948" y1="2300" x2="945" y2="2345" stroke-width="1.5"/>
 <line x1="985" y1="2247" x2="1105" y2="2256" stroke-width="3"/>
 <line x1="1080" y1="2256" x2="1082" y2="2290" stroke-width="2"/>
 <polygon points="444,2246 489,2240 482,2370 448,2362" fill="#fff" stroke-width="2.5"/>
 <line x1="605" y1="2233" x2="547" y2="2366" stroke-width="1.8"/>
 <rect x="690" y="2238" width="142" height="117" fill="#fff" stroke-width="1.8"/>
 <rect x="752" y="2264" width="58" height="50" fill="#fff" stroke-width="2"/>
 <circle cx="758" cy="2264" r="5" fill="#fff" stroke-width="2"/><circle cx="788" cy="2264" r="5" fill="#fff" stroke-width="2"/>
 <circle cx="758" cy="2277" r="5" fill="#fff" stroke-width="2"/><circle cx="788" cy="2277" r="5" fill="#fff" stroke-width="2"/>
 <rect x="686" y="2242" width="20" height="30" rx="9" fill="#fff" stroke-width="2"/>
 <rect x="686" y="2318" width="20" height="30" rx="9" fill="#fff" stroke-width="2"/>
 <rect x="612" y="2236" width="20" height="20" fill="#fff" stroke-width="2"/>
 <rect x="650" y="2238" width="9" height="13" fill="#fff" stroke-width="1.5"/>
 <rect x="900" y="2240" width="16" height="16" fill="#fff" stroke-width="1.8"/>
 <circle cx="511" cy="2270" r="3" fill="#000"/><circle cx="511" cy="2340" r="3" fill="#000"/>
 <rect x="672" y="2197" width="192" height="35" fill="#fff" stroke-width="2"/>
 <rect x="680" y="2207" width="22" height="25" fill="#fff" stroke-width="1.8"/>
 <rect x="720" y="2203" width="40" height="29" fill="#fff" stroke-width="1.5"/>
 <rect x="795" y="2207" width="30" height="25" fill="#fff" stroke-width="1.8"/>
 <rect x="835" y="2210" width="18" height="22" rx="6" fill="#fff" stroke-width="1.5"/>
 <rect x="701" y="2191" width="149" height="8" fill="#fff" stroke-width="2"/>
 <rect x="749" y="2178" width="14" height="14" fill="#fff" stroke-width="2"/>
 <path d="M444 2276 L385 2276 L380 2285 L368 2285 L368 2302 L380 2302 L385 2327 L444 2327 Z" fill="#fff" stroke-width="2"/>
 <line x1="382" y1="2302" x2="444" y2="2302" stroke-width="1.5"/>
 <rect x="131" y="2285" width="237" height="17" fill="#fff" stroke-width="2"/>
 <rect x="91" y="2278" width="40" height="30" rx="5" fill="url(#dots)" stroke-width="2"/>

 <use href="#t3" xlink:href="#t3" fill="none" stroke="#000" stroke-width="25"/>
 <use href="#t3" xlink:href="#t3" fill="none" stroke="#fff" stroke-width="19"/>
 <use href="#t3" xlink:href="#t3" fill="none" stroke="#000" stroke-width="19" stroke-dasharray="2.6 8"/>
 <path d="M250 2504 L1230 2601" fill="none" stroke="#000" stroke-width="24" stroke-dasharray="2.8 7.2"/>
 <path d="M330 2767 L1220 2767" fill="none" stroke="#000" stroke-width="18" stroke-dasharray="2.8 7.2"/>
 <rect x="470" y="2595" width="90" height="22" fill="#fff" stroke-width="1.8"/>
 <rect x="690" y="2600" width="100" height="22" fill="#fff" stroke-width="1.8"/>
 <rect x="915" y="2605" width="110" height="22" fill="#fff" stroke-width="1.8"/>
 <rect x="563" y="2575" width="22" height="32" fill="#fff" stroke-width="1.8"/>
 <rect x="790" y="2585" width="22" height="30" fill="#fff" stroke-width="1.8"/>
 <rect x="1010" y="2590" width="22" height="30" fill="#fff" stroke-width="1.8"/>
 <circle cx="352" cy="2592" r="18" fill="#fff" stroke-width="2"/>
 <circle cx="1195" cy="2640" r="16" fill="#fff" stroke-width="2"/>
 <rect x="500" y="2660" width="60" height="26" fill="#fff" stroke-width="1.8"/>
 <rect x="725" y="2660" width="60" height="26" fill="#fff" stroke-width="1.8"/>
 <rect x="950" y="2660" width="60" height="26" fill="#fff" stroke-width="1.8"/>
 <rect x="1175" y="2660" width="45" height="24" fill="#fff" stroke-width="1.8"/>
 <rect x="280" y="2650" width="50" height="24" fill="#fff" stroke-width="1.8"/>
 <use href="#rw" xlink:href="#rw" transform="translate(410,2682)"/>
 <use href="#rw" xlink:href="#rw" transform="translate(637,2682)"/>
 <use href="#rw" xlink:href="#rw" transform="translate(865,2682)"/>
 <use href="#rw" xlink:href="#rw" transform="translate(1092,2682)"/>
 <use href="#idl" xlink:href="#idl" transform="translate(1284,2680)"/>
 <use href="#spr" xlink:href="#spr" transform="translate(161,2583)"/>
 <use href="#rol" xlink:href="#rol" transform="translate(516,2539)"/>
 <use href="#rol" xlink:href="#rol" transform="translate(981,2574)"/>
 <line x1="171" y1="2804" x2="1290" y2="2804" stroke-width="3.5"/>
</g>
</svg>
</body></html>
